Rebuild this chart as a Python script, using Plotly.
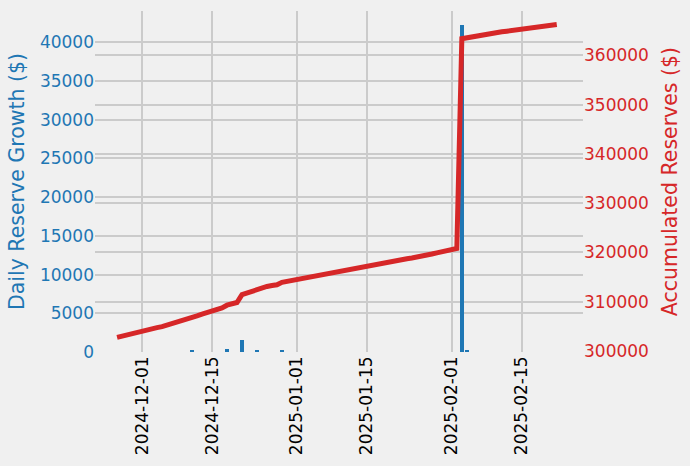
import pandas as pd
import plotly.graph_objects as go

# Daily reserve growth (bars)
bar_dates = ["2024-12-11", "2024-12-18", "2024-12-21", "2024-12-24", "2024-12-29",
             "2025-02-03", "2025-02-04"]
bar_values = [200, 450, 1600, 250, 250, 42240, 150]

# Accumulated reserves (line), one value per day from 2024-11-26
line_start = "2024-11-26"
line_values = [
    302780, 303050, 303330, 303580, 303850,                      # Nov 26-30
    304100, 304330, 304560, 304750, 304950, 305230, 305500, 305800, 306080, 306450,
    306850, 307150, 307500, 307800, 308050, 308350, 308750, 309300, 309600, 309850,
    311450, 311800, 312150, 312600, 312850, 313100, 313300, 313450, 313950, 314150,
    314380,                                                      # Dec 1-31
    314590, 314770, 314950, 315120, 315300, 315480, 315650, 315820, 316000, 316170,
    316380, 316590, 316800, 317000, 317220, 317440, 317660, 317880, 318100, 318320,
    318460, 318600, 318740, 318880, 319020, 319230, 319450, 319680, 319920, 320150,
    320380,                                                      # Jan 1-31
    320600, 320820, 363380, 363560, 363730, 364100, 364250, 364380, 364510, 364640,
    364770, 364900, 365030, 365150, 365270, 365400, 365520, 365640, 365770, 365900,
    366080, 366280,                                              # Feb 1-22
]
line_dates = pd.date_range(line_start, periods=len(line_values), freq="D")

x_ticks = ["2024-12-01", "2024-12-15", "2025-01-01", "2025-01-15", "2025-02-01", "2025-02-15"]
left_ticks = [0, 5000, 10000, 15000, 20000, 25000, 30000, 35000, 40000]
right_ticks = [300000, 310000, 320000, 330000, 340000, 350000, 360000]

BLUE = "#1f77b4"
RED = "#d62728"
GRID = "#cbcbcb"
BG = "#f0f0f0"
FONT = "DejaVu Sans"

fig = go.Figure()
fig.add_trace(go.Bar(
    x=pd.to_datetime(bar_dates), y=bar_values, yaxis="y",
    marker=dict(color=BLUE, line=dict(width=0)),
    width=0.7 * 86400000, name="Daily Reserve Growth",
))
fig.add_trace(go.Scatter(
    x=line_dates, y=line_values, yaxis="y2", mode="lines",
    line=dict(color=RED, width=5), name="Accumulated Reserves",
))

fig.update_layout(
    width=690, height=466,
    paper_bgcolor=BG, plot_bgcolor=BG,
    margin=dict(l=95, r=107, t=11, b=114),
    showlegend=False,
    font=dict(family=FONT, size=16.5, color="#333"),
    xaxis=dict(
        type="date", automargin=False,
        range=["2024-11-21 14:00", "2025-02-27 06:00"],
        tickvals=pd.to_datetime(x_ticks), tickformat="%Y-%m-%d",
        tickangle=-90, showgrid=True, gridcolor=GRID, gridwidth=1.5,
        zeroline=False, showline=False, ticks="",
        tickfont=dict(family=FONT, size=17, color="#000"),
    ),
    yaxis=dict(
        automargin=False,
        range=[0, 44050], tickvals=left_ticks, tickformat="d",
        showgrid=True, gridcolor=GRID, gridwidth=1.5, zeroline=False,
        showline=False, ticks="",
        tickfont=dict(family=FONT, size=17, color=BLUE),
        title=dict(text="Daily Reserve Growth ($)",
                   font=dict(family=FONT, size=20.5, color=BLUE), standoff=9),
    ),
    yaxis2=dict(
        overlaying="y", side="right", automargin=False,
        range=[299800, 369000], tickvals=right_ticks, tickformat="d",
        showgrid=True, gridcolor=GRID, gridwidth=1.5, zeroline=False,
        showline=False, ticks="",
        tickfont=dict(family=FONT, size=17, color=RED),
        title=dict(text="Accumulated Reserves ($)",
                   font=dict(family=FONT, size=20.5, color=RED), standoff=14),
    ),
    bargap=0,
)

fig.write_html(
    "out.html",
    config={"displayModeBar": False},
    post_script="document.body.style.margin='0';document.body.style.background='#f0f0f0';",
)
